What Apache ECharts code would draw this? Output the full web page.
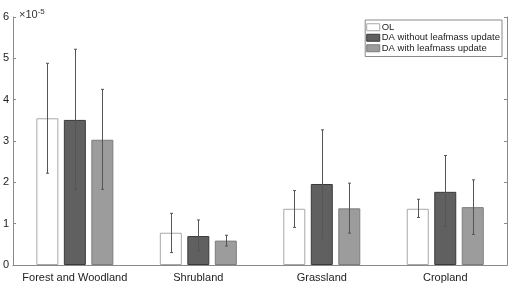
<!DOCTYPE html>
<html>
<head>
<meta charset="utf-8">
<script src="https://cdn.jsdelivr.net/npm/echarts@6/dist/echarts.min.js"></script>
<style>
  html, body { margin: 0; padding: 0; background: #fff; }
  #chart { width: 510px; height: 285px; }
</style>
</head>
<body>
<div id="chart"></div>
<script>
// land cover classes
const categories = ['Forest and Woodland', 'Shrubland', 'Grassland', 'Cropland'];
const seriesNames = ['OL', 'DA without leafmass update', 'DA with leafmass update'];

// mean values (x 1e-5)
const olMean = [3.55, 0.78, 1.36, 1.36];
const daNoLeafMean = [3.51, 0.70, 1.96, 1.77];
const daLeafMean = [3.03, 0.59, 1.37, 1.40];

// error bar bounds [low, high] (x 1e-5)
const olErr = [[2.22, 4.88], [0.30, 1.25], [0.91, 1.80], [1.15, 1.59]];
const daNoLeafErr = [[1.82, 5.22], [0.34, 1.09], [0.64, 3.27], [0.94, 2.65]];
const daLeafErr = [[1.83, 4.25], [0.46, 0.72], [0.77, 1.98], [0.74, 2.06]];

const yTicks = [0, 1, 2, 3, 4, 5, 6];

const chart = echarts.init(document.getElementById('chart'));

const frameColor = '#8a8a8a';
const fills = ['#ffffff', '#606060', '#9c9c9c'];
const borders = ['#a8a8a8', '#3a3a3a', '#7c7c7c'];
const barW = 22;
const gapPx = 5.5;

function errorSeries(errs, idx) {
  return {
    type: 'custom',
    name: seriesNames[idx] + ' err',
    silent: true,
    z: 5,
    data: errs.map((e, i) => [i, e[0], e[1]]),
    renderItem: (params, api) => {
      const off = (idx - 1) * (barW + gapPx);
      const lo = api.coord([api.value(0), api.value(1)]);
      const hi = api.coord([api.value(0), api.value(2)]);
      const x = Math.round(lo[0] + off) + 0.5;
      const cap = 1.5;
      const style = { stroke: '#555', lineWidth: 1 };
      return {
        type: 'group',
        children: [
          { type: 'line', shape: { x1: x, y1: lo[1], x2: x, y2: hi[1] }, style },
          { type: 'line', shape: { x1: x - cap, y1: lo[1], x2: x + cap, y2: lo[1] }, style },
          { type: 'line', shape: { x1: x - cap, y1: hi[1], x2: x + cap, y2: hi[1] }, style }
        ]
      };
    }
  };
}

function barSeries(values, idx) {
  return {
    type: 'bar',
    name: seriesNames[idx],
    data: values,
    barWidth: barW,
    barGap: (gapPx / barW * 100) + '%',
    itemStyle: { color: fills[idx], borderColor: borders[idx], borderWidth: 1 },
    z: 2
  };
}

const option = {
  animation: false,
  textStyle: { fontFamily: 'Liberation Sans, Arial, sans-serif' },
  title: {
    text: '×10{sup|-5}',
    left: 14,
    top: 3,
    textStyle: {
      fontSize: 11,
      fontWeight: 'normal',
      color: '#333',
      rich: { sup: { fontSize: 8, verticalAlign: 'top', padding: [0, 0, 6, 0], color: '#333' } }
    }
  },
  legend: {
    orient: 'vertical',
    right: 8,
    top: 20,
    itemWidth: 13,
    itemHeight: 7,
    itemGap: 0,
    padding: [2, 2, 3, 1],
    borderColor: frameColor,
    borderWidth: 1,
    backgroundColor: '#fff',
    textStyle: { fontSize: 9.5, lineHeight: 10.5, color: '#222', padding: [0, 0, 0, -3] },
    data: seriesNames.map((n, i) => ({
      name: n,
      icon: 'rect',
      itemStyle: { color: fills[i], borderColor: borders[i], borderWidth: 1 }
    }))
  },
  grid: { left: 13, right: 3, top: 17, bottom: 20 },
  xAxis: [
    {
      type: 'category',
      data: categories,
      position: 'bottom',
      axisLine: { lineStyle: { color: frameColor } },
      axisTick: { inside: true, alignWithLabel: true, length: 3, lineStyle: { color: '#444' } },
      axisLabel: { color: '#222', fontSize: 11, margin: 7, interval: 0 }
    },
    {
      type: 'category',
      data: categories,
      position: 'top',
      axisLine: { lineStyle: { color: frameColor } },
      axisTick: { inside: true, alignWithLabel: true, length: 3, lineStyle: { color: frameColor } },
      axisLabel: { show: false }
    }
  ],
  yAxis: [
    {
      type: 'value',
      min: yTicks[0],
      max: yTicks[yTicks.length - 1],
      interval: 1,
      axisLine: { show: true, lineStyle: { color: frameColor } },
      axisTick: { show: true, inside: true, length: 3, lineStyle: { color: frameColor } },
      axisLabel: { color: '#222', fontSize: 11, margin: 4 },
      splitLine: { show: false }
    },
    {
      type: 'value',
      position: 'right',
      min: yTicks[0],
      max: yTicks[yTicks.length - 1],
      interval: 1,
      axisLine: { show: true, lineStyle: { color: frameColor } },
      axisTick: { show: true, inside: true, length: 3, lineStyle: { color: frameColor } },
      axisLabel: { show: false },
      splitLine: { show: false }
    }
  ],
  series: [
    barSeries(olMean, 0),
    barSeries(daNoLeafMean, 1),
    barSeries(daLeafMean, 2),
    errorSeries(olErr, 0),
    errorSeries(daNoLeafErr, 1),
    errorSeries(daLeafErr, 2)
  ]
};

chart.setOption(option);
</script>
</body>
</html>
